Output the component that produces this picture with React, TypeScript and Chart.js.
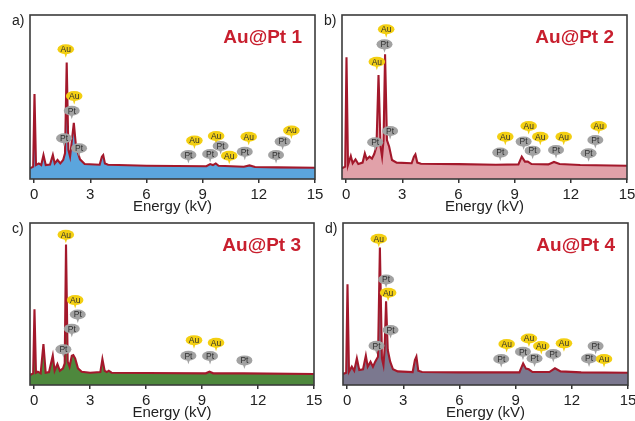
import React, { useEffect, useRef } from "react";
import { Chart, registerables } from "chart.js";

Chart.register(...registerables);

const FONT = "'Liberation Sans', Arial, Helvetica, sans-serif";

// ---- data ----
const X_TICKS = [0, 3, 6, 9, 12, 15];
const X_MIN = -0.22;
const X_MAX = 15;
const TITLES = ["Au@Pt 1", "Au@Pt 2", "Au@Pt 3", "Au@Pt 4"];
const LETTERS = ["a)", "b)", "c)", "d)"];

const SPECTRUM_A: [number, number][] = [
  [-0.22, 6.5], [-0.05, 7.5], [0.02, 51.8], [0.1, 8.5], [0.25, 9.5], [0.38, 8.5],
  [0.5, 14.6], [0.62, 8.5], [0.85, 8.8], [1.0, 14.6], [1.1, 9.5], [1.25, 11.6],
  [1.4, 9.5], [1.55, 11.6], [1.65, 15.7], [1.74, 71.1], [1.83, 17.7], [1.92, 13.6],
  [2.0, 21.7], [2.12, 34.3], [2.22, 21.7], [2.32, 16.7], [2.45, 12.0], [2.7, 9.1],
  [3.5, 8.7], [3.62, 13.6], [3.69, 14.6], [3.78, 9.5], [3.95, 8.7], [4.5, 8.5],
  [6, 8.1], [9.2, 7.8], [9.4, 9.1], [9.55, 8.5], [9.7, 9.5], [9.85, 8.1],
  [11.2, 7.5], [11.5, 8.3], [11.8, 7.3], [13, 7.1], [15, 6.9],
];
const SPECTRUM_B: [number, number][] = [
  [-0.23, 6.5], [-0.05, 7.5], [0.02, 74.2], [0.1, 8.5], [0.25, 14.0], [0.35, 9.6],
  [0.5, 12.0], [0.65, 9.1], [0.88, 10.0], [1.0, 15.6], [1.1, 12.0], [1.25, 13.6],
  [1.38, 12.4], [1.5, 15.2], [1.62, 19.7], [1.73, 63.4], [1.84, 19.7], [1.92, 13.6],
  [2.0, 23.8], [2.08, 76.0], [2.18, 23.8], [2.3, 19.7], [2.45, 11.6], [2.7, 10.0],
  [3.5, 9.6], [3.62, 13.6], [3.7, 15.0], [3.8, 10.0], [4.0, 9.3], [6, 9.1],
  [8, 8.7], [9.2, 8.9], [9.38, 13.6], [9.55, 10.6], [9.7, 10.6], [9.9, 9.1],
  [10.8, 8.9], [11.1, 10.4], [11.4, 9.1], [12.5, 8.5], [15, 8.1],
];
const SPECTRUM_C: [number, number][] = [
  [-0.22, 6.2], [-0.05, 7.2], [0.02, 46.8], [0.1, 7.6], [0.2, 8.2], [0.35, 7.2],
  [0.5, 25.3], [0.62, 7.6], [0.8, 8.0], [1.0, 18.1], [1.1, 8.8], [1.25, 12.9],
  [1.38, 8.8], [1.55, 10.3], [1.64, 13.3], [1.71, 86.7], [1.8, 14.4], [1.9, 11.3],
  [2.02, 18.1], [2.1, 18.5], [2.2, 16.4], [2.35, 10.3], [2.55, 8.2], [3.0, 7.6],
  [3.55, 8.0], [3.66, 16.0], [3.78, 8.8], [3.9, 8.0], [4.0, 8.8], [4.15, 7.6],
  [6, 7.4], [9.2, 7.2], [9.4, 8.2], [9.6, 7.2], [11.2, 7.2], [15, 6.8],
];
const SPECTRUM_D: [number, number][] = [
  [-0.22, 6.8], [-0.05, 7.6], [0.02, 62.2], [0.1, 8.2], [0.25, 11.3], [0.38, 8.8],
  [0.52, 16.4], [0.65, 9.2], [0.85, 9.7], [1.0, 18.1], [1.1, 11.3], [1.25, 14.4],
  [1.38, 11.3], [1.5, 14.4], [1.65, 17.5], [1.75, 84.8], [1.86, 16.4], [1.94, 12.3],
  [2.0, 21.6], [2.08, 51.7], [2.17, 21.6], [2.3, 14.4], [2.45, 9.7], [2.7, 8.4],
  [3.5, 8.0], [3.62, 15.4], [3.7, 17.5], [3.8, 8.8], [4.0, 8.0], [6, 7.8],
  [9.2, 7.8], [9.4, 13.3], [9.55, 10.1], [9.7, 9.7], [9.9, 8.0], [10.8, 8.0],
  [11.1, 10.3], [11.4, 8.4], [12.5, 7.8], [15, 7.6],
];

const LABELS_A: [string, number, number][] = [
  ["Au", 1.69, 79.1], ["Au", 2.14, 50.6], ["Pt", 2.01, 41.6], ["Pt", 1.6, 24.8],
  ["Pt", 2.4, 18.7], ["Au", 8.56, 23.4], ["Pt", 8.24, 14.6], ["Au", 9.72, 26.2],
  ["Pt", 9.4, 15.2], ["Pt", 9.96, 20.1], ["Au", 10.42, 14.2], ["Au", 11.46, 25.8],
  ["Pt", 11.25, 16.6], ["Au", 13.74, 29.5], ["Pt", 13.27, 22.8], ["Pt", 12.92, 14.6],
];
const LABELS_B: [string, number, number][] = [
  ["Au", 2.14, 91.3], ["Pt", 2.05, 82.1], ["Au", 1.64, 71.5], ["Pt", 2.35, 29.3],
  ["Pt", 1.55, 22.4], ["Au", 8.5, 25.8], ["Pt", 8.23, 16.1], ["Au", 9.75, 32.3],
  ["Pt", 9.48, 22.8], ["Au", 10.37, 25.8], ["Pt", 9.96, 17.3], ["Au", 11.62, 25.8],
  ["Pt", 11.21, 17.7], ["Au", 13.49, 32.3], ["Pt", 13.31, 23.8], ["Pt", 12.95, 15.7],
];
const LABELS_C: [string, number, number][] = [
  ["Au", 1.7, 92.8], ["Au", 2.2, 52.4], ["Pt", 2.34, 43.5], ["Pt", 2.02, 34.7],
  ["Pt", 1.57, 22.0], ["Au", 8.57, 27.7], ["Pt", 8.27, 18.1], ["Au", 9.75, 26.1],
  ["Pt", 9.43, 17.9], ["Pt", 11.27, 15.2],
];
const LABELS_D: [string, number, number][] = [
  ["Au", 1.69, 90.3], ["Pt", 2.08, 65.1], ["Au", 2.19, 56.9], ["Pt", 2.32, 33.9],
  ["Pt", 1.57, 24.2], ["Au", 8.52, 25.3], ["Pt", 8.23, 16.0], ["Au", 9.71, 28.7],
  ["Pt", 9.39, 20.5], ["Au", 10.37, 24.0], ["Pt", 10.01, 16.4], ["Au", 11.58, 25.7],
  ["Pt", 11.01, 19.1], ["Pt", 13.27, 24.0], ["Pt", 12.92, 16.4], ["Au", 13.72, 16.0],
];

const SPECTRA = [SPECTRUM_A, SPECTRUM_B, SPECTRUM_C, SPECTRUM_D];
const LABELS = [LABELS_A, LABELS_B, LABELS_C, LABELS_D];

// ---- styles / layout ----
const FILLS = ["#5ba5dd", "#e1a1a9", "#4e883d", "#7b788f"];
const LINE_COLOR = "#a3182b";
const TITLE_COLOR = "#c81f2e";
const LAYOUT = [
  { left: 0, top: 0, w: 326, h: 216, pad: { left: 30, right: 11, top: 15 } },
  { left: 318, top: 0, w: 317, h: 216, pad: { left: 24, right: 8, top: 15 } },
  { left: 0, top: 212, w: 326, h: 210, pad: { left: 30, right: 12, top: 11 } },
  { left: 318, top: 212, w: 317, h: 210, pad: { left: 25, right: 7, top: 11 } },
];
const AXIS_H = 37;

const decorPlugin = {
  id: "decor",
  afterDatasetsDraw(chart: any, _args: any, opts: any) {
    const { ctx, chartArea: ca, scales } = chart;
    ctx.save();
    // frame
    ctx.strokeStyle = "#3b3b3b";
    ctx.lineWidth = 1.6;
    ctx.strokeRect(ca.left, ca.top, ca.right - ca.left, ca.bottom - ca.top);
    // peak labels
    for (const [el, xv, yv] of opts.labels as [string, number, number][]) {
      const px = scales.x.getPixelForValue(xv);
      const py = scales.y.getPixelForValue(yv);
      const col = el === "Au" ? "#f3cf12" : "#a2a2a2";
      ctx.fillStyle = col;
      ctx.beginPath();
      ctx.moveTo(px - 1.8, py + 3);
      ctx.lineTo(px + 1.8, py + 3);
      ctx.lineTo(px, py + 8.5);
      ctx.closePath();
      ctx.fill();
      ctx.beginPath();
      ctx.ellipse(px, py, el === "Au" ? 8.3 : 8, 5, 0, 0, Math.PI * 2);
      ctx.fill();
      ctx.fillStyle = "#2e2e2e";
      ctx.font = `8.5px ${FONT}`;
      ctx.textAlign = "center";
      ctx.textBaseline = "middle";
      ctx.fillText(el, px, py + 0.5);
    }
    // panel title
    ctx.fillStyle = TITLE_COLOR;
    ctx.font = `bold 19px ${FONT}`;
    ctx.textAlign = "right";
    ctx.textBaseline = "alphabetic";
    ctx.fillText(opts.title, ca.right - 13, ca.top + 28);
    // panel letter
    ctx.fillStyle = "#222";
    ctx.font = `14px ${FONT}`;
    ctx.textAlign = "left";
    ctx.fillText(opts.letter, ca.left - 18, ca.top + 10);
    ctx.restore();
  },
};

function Panel({ idx }: { idx: number }) {
  const ref = useRef<HTMLCanvasElement>(null);
  const lay = LAYOUT[idx];
  useEffect(() => {
    const chart = new Chart(ref.current as HTMLCanvasElement, {
      type: "line",
      data: {
        datasets: [
          {
            data: SPECTRA[idx].map(([x, y]) => ({ x, y })),
            borderColor: LINE_COLOR,
            borderWidth: 2.1,
            backgroundColor: FILLS[idx],
            fill: "start",
            pointRadius: 0,
            tension: 0,
          },
        ],
      },
      options: {
        responsive: false,
        animation: false,
        layout: { padding: { ...lay.pad, bottom: 0 } },
        plugins: {
          legend: { display: false },
          tooltip: { enabled: false },
          decor: { labels: LABELS[idx], title: TITLES[idx], letter: LETTERS[idx] },
        } as any,
        scales: {
          x: {
            type: "linear",
            min: X_MIN,
            max: X_MAX,
            afterBuildTicks: (s: any) => {
              s.ticks = X_TICKS.map((v) => ({ value: v }));
            },
            afterFit: (s: any) => {
              s.height = AXIS_H;
              s.paddingLeft = 0;
              s.paddingRight = 0;
            },
            grid: { drawOnChartArea: false, drawTicks: true, tickLength: 4, color: "#333", lineWidth: 1.5 },
            border: { display: false },
            ticks: {
              font: { size: 15, family: FONT },
              color: "#222",
              padding: 3,
              maxRotation: 0,
              autoSkip: false,
            },
            title: {
              display: true,
              text: "Energy (kV)",
              font: { size: 15, family: FONT },
              color: "#222",
              padding: 0,
            },
          },
          y: { display: false, min: 0, max: 100 },
        },
      },
      plugins: [decorPlugin],
    } as any);
    return () => chart.destroy();
  }, [idx]);
  return (
    <canvas
      ref={ref}
      width={lay.w}
      height={lay.h}
      style={{ position: "absolute", left: lay.left, top: lay.top, width: lay.w, height: lay.h }}
    />
  );
}

export default function App() {
  return (
    <div style={{ position: "absolute", left: 0, top: 0, width: 635, height: 421, background: "#fff", overflow: "hidden" }}>
      {[0, 1, 2, 3].map((i) => (
        <Panel key={i} idx={i} />
      ))}
    </div>
  );
}
